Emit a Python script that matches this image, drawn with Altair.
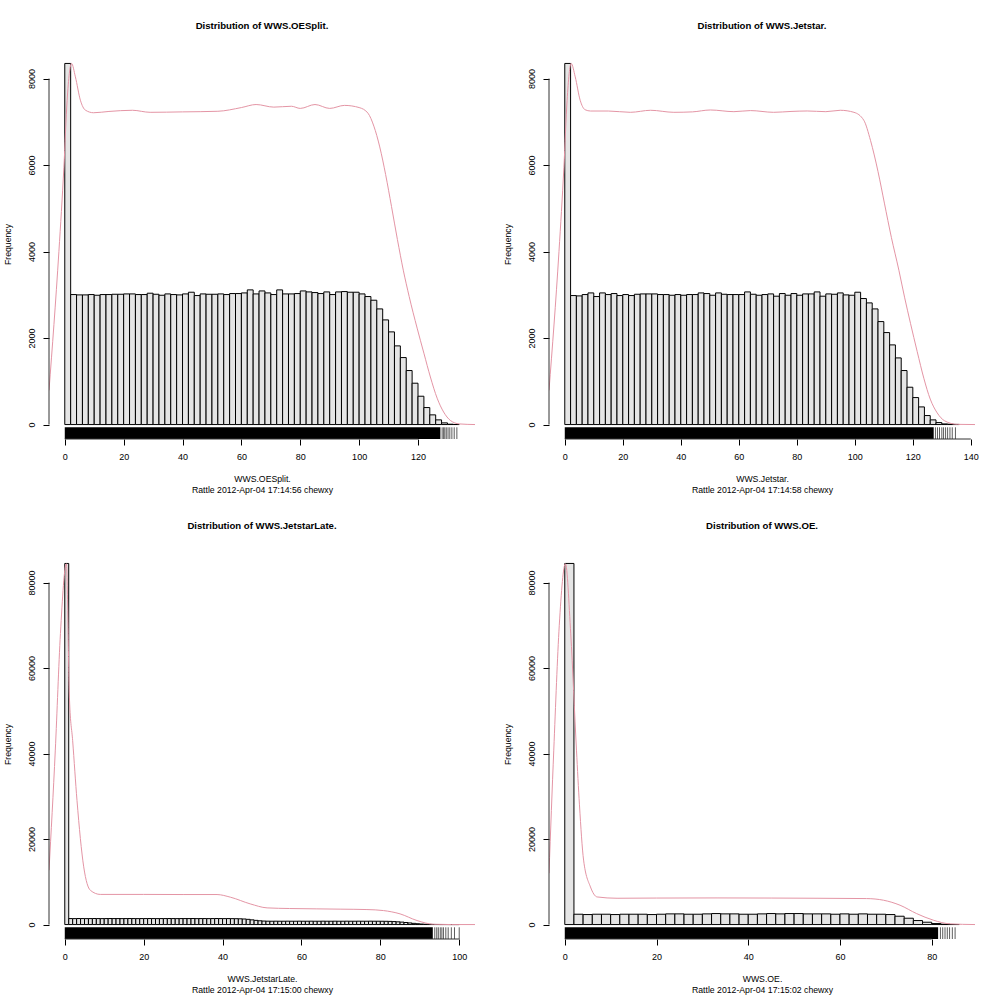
import altair as alt
import pandas as pd

FONT = "Liberation Sans"

# ---------------- data ----------------
names = ["WWS.OESplit.", "WWS.Jetstar.", "WWS.JetstarLate.", "WWS.OE."]
stamps = ["Rattle 2012-Apr-04 17:14:56 chewxy", "Rattle 2012-Apr-04 17:14:58 chewxy",
          "Rattle 2012-Apr-04 17:15:00 chewxy", "Rattle 2012-Apr-04 17:15:02 chewxy"]
binwidths = [2, 2, 1, 2]

counts1 = [8350, 3006, 2998, 2998, 3006, 2990, 3006, 3006, 3013, 3013, 3021, 3021, 3006, 3006, 3037,
           3013, 2990, 3021, 3006, 2998, 3021, 3060, 2983, 3021, 3013, 3013, 3021, 3006, 3029, 3029,
           3044, 3114, 3021, 3090, 3044, 3006, 3114, 3021, 3021, 3029, 3090, 3067, 3052, 3029, 3067,
           3006, 3067, 3075, 3060, 3060, 3021, 2960, 2875, 2674, 2420, 2143, 1819, 1549, 1249, 956,
           655, 393, 224, 108, 39, 8, 2]
counts2 = [8350, 2983, 2975, 3006, 3044, 2960, 3044, 3006, 3029, 2983, 3006, 2983, 3013, 3021, 3021,
           3021, 3006, 3006, 2990, 3006, 2990, 3006, 3006, 3044, 3029, 2990, 3044, 3013, 3006, 3006,
           3006, 3067, 3013, 2990, 3006, 3021, 2968, 3029, 2990, 3029, 2990, 3021, 3021, 3067, 2968,
           3021, 3013, 3044, 2998, 2990, 3060, 2914, 2813, 2674, 2381, 2127, 1842, 1541, 1249, 863,
           624, 408, 208, 108, 46, 15, 8, 3]
counts3 = ([84470] + [1400, 1390, 1410, 1400, 1390, 1400, 1410, 1400, 1390, 1400,
                      1410, 1400, 1400, 1390, 1400, 1410, 1400, 1390, 1400, 1400,
                      1410, 1400, 1390, 1400, 1400, 1410, 1400, 1390, 1400, 1400,
                      1400, 1410, 1390, 1400, 1400, 1390, 1400, 1410, 1400, 1390,
                      1400, 1380, 1370, 1350, 1300, 1220, 1100, 980, 880, 820]
           + [790, 780, 790, 780, 780, 790, 780, 780, 790, 780,
              780, 790, 780, 780, 790, 780, 780, 790, 780, 780,
              790, 780, 780, 790, 780, 780, 790, 780, 780, 770,
              760, 740, 700, 640, 570, 480, 380, 280, 190, 120,
              70, 40, 20, 10, 5, 3, 2, 1, 1])
counts4 = [84470, 2417, 2339, 2417, 2417, 2339, 2417, 2417, 2417, 2339, 2417, 2495, 2495, 2417, 2417,
           2495, 2573, 2495, 2495, 2417, 2417, 2495, 2573, 2495, 2573, 2573, 2495, 2495, 2495, 2417,
           2495, 2417, 2495, 2417, 2417, 2339, 1949, 1481, 936, 546, 234, 78, 10]

dens1_x = [-5.36, -2, -0.3, 0.8, 2.3, 3.6, 5.3, 7, 9.8, 15, 23, 29, 40, 52, 60, 65, 71, 77, 80, 85,
           90, 95, 100, 103, 105, 107, 109, 111, 113, 115, 117, 119.7, 122, 124.2, 126.5, 128.7, 131,
           134, 139.36]
dens1_y = [790, 4000, 5950, 7500, 8350, 8040, 7500, 7270, 7210, 7240, 7267, 7220, 7230, 7244, 7330,
           7400, 7340, 7360, 7310, 7400, 7310, 7380, 7330, 7200, 6900, 6420, 5780, 5040, 4280, 3570,
           2960, 2230, 1650, 1100, 610, 290, 95, 15, 0]
dens2_x = [-5.44, -2, -0.3, 0.8, 2.2, 3.6, 5.3, 7, 8.9, 15, 22.6, 29.6, 37.6, 44, 50.2, 58.3, 64, 72,
           78, 83.6, 90, 95, 99.7, 103.1, 105.4, 108, 110.2, 112.6, 115.2, 117.2, 119.2, 121.5, 123.8,
           126, 128.4, 131, 135.3, 141.44]
dens2_y = [790, 4000, 5950, 7500, 8350, 8040, 7500, 7280, 7250, 7250, 7220, 7267, 7220, 7230, 7274,
           7235, 7260, 7220, 7240, 7251, 7235, 7267, 7220, 7036, 6573, 5850, 5120, 4330, 3568, 2930,
           2340, 1690, 1070, 590, 270, 85, 5, 0]
dens3_x = [-4, -2.4, -1.1, 0.4, 1.2, 2.0, 3.1, 4.8, 6.5, 9, 20, 30, 38.6, 42, 47, 51.3, 57, 63.9, 70,
           76.6, 80.8, 85, 89.3, 93.5, 98, 104]
dens3_y = [12700, 40800, 68100, 84400, 52500, 43000, 29000, 13500, 8000, 7050, 7050, 7020, 7020, 6400,
           4840, 3900, 3750, 3670, 3600, 3510, 3270, 2500, 940, 70, 0, 0]
dens4_x = [-3.44, -2.4, -1.2, 0.15, 1.3, 2.55, 3.2, 4.1, 5.6, 7.05, 11.4, 20, 33.2, 45, 55, 65.8, 69.5,
           73.1, 76.7, 80.4, 84, 89.44]
dens4_y = [12000, 40800, 70000, 84400, 68000, 40800, 28000, 15080, 8800, 6460, 6150, 6200, 6230, 6200,
           6150, 6080, 5690, 4520, 2570, 1010, 160, 0]

rug_dense_end = [127.6, 127.2, 93.3, 81.4]
rug_tail1 = [128.2, 128.7, 129.1, 129.6, 130.2, 130.8, 131.5, 132.3, 133.2]
rug_tail2 = [127.8, 128.5, 129.2, 130.0, 130.6, 131.3, 132.0, 132.8, 133.6, 134.7]
rug_tail3 = [93.8, 94.3, 94.7, 95.2, 95.6, 96.0, 96.6, 97.2, 98.0, 98.8, 100.0]
rug_tail4 = [81.9, 82.4, 82.9, 83.4, 83.9, 84.5, 85.1]

xticks = [[0, 20, 40, 60, 80, 100, 120], [0, 20, 40, 60, 80, 100, 120, 140],
          [0, 20, 40, 60, 80, 100], [0, 20, 40, 60, 80]]
yticks = [[0, 2000, 4000, 6000, 8000], [0, 2000, 4000, 6000, 8000],
          [0, 20000, 40000, 60000, 80000], [0, 20000, 40000, 60000, 80000]]

# ---------------- panels ----------------
W, H = 426, 390


def panel(name, stamp, counts, bw, dx, dy, rug_end, rug_tail, xt, yt):
    n = len(counts)
    xr = n * bw
    xlo, xhi = -0.04 * xr, xr * 1.04
    ymax = max(max(counts), max(dy))
    ylo, yhi = -0.04 * ymax, 1.04 * ymax
    rug_top = ylo + 0.03 * (yhi - ylo)

    xs = alt.Scale(domain=[xlo, xhi], nice=False, zero=False)
    ys = alt.Scale(domain=[ylo, yhi], nice=False, zero=False)

    bars = pd.DataFrame({"x0": [i * bw for i in range(n)],
                         "x1": [(i + 1) * bw for i in range(n)],
                         "count": counts})
    dens = pd.DataFrame({"x0": dx, "count": dy})
    rug = pd.DataFrame({"x0": [0], "x1": [rug_end], "count": [ylo], "y1": [rug_top]})
    tail = pd.DataFrame({"x0": rug_tail, "count": [ylo] * len(rug_tail),
                         "y1": [rug_top] * len(rug_tail)})
    yline = pd.DataFrame({"x0": [xlo], "count": [yt[0]], "y1": [yt[-1]]})
    xline = pd.DataFrame({"count": [ylo], "x0": [xt[0]], "x1": [xt[-1]]})

    xaxis = alt.Axis(values=xt, domain=False, grid=False, ticks=True, tickSize=6, tickColor="black",
                     tickWidth=1, labelFontSize=9, labelColor="black", labelPadding=7, format="d",
                     labelFlush=False, labelOverlap=False, title=[name, stamp], titleFontSize=8.7,
                     titleFontWeight="normal", titleColor="black", titlePadding=13,
                     titleLineHeight=11.6)
    yaxis = alt.Axis(values=yt, domain=False, grid=False, ticks=True, tickSize=6, tickColor="black",
                     tickWidth=1, labelFontSize=9, labelColor="black", labelAngle=-90,
                     labelAlign="center", labelBaseline="alphabetic", labelPadding=9, format="d",
                     labelFlush=False, labelOverlap=False, title="Frequency", titleFontSize=8.7,
                     titleFontWeight="normal", titleColor="black", titlePadding=15)

    X = lambda: alt.X("x0:Q", scale=xs, axis=xaxis)
    Y = lambda: alt.Y("count:Q", scale=ys, axis=yaxis)

    hist = alt.Chart(bars).mark_rect(fill="#E5E5E5", stroke="black", strokeWidth=1).encode(
        x=X(), x2="x1:Q", y=Y(), y2=alt.datum(0))
    rug_l = alt.Chart(rug).mark_rect(color="black").encode(x=X(), x2="x1:Q", y=Y(), y2="y1:Q")
    tail_l = alt.Chart(tail).mark_rule(color="#333333", strokeWidth=0.8).encode(
        x=X(), y=Y(), y2="y1:Q")
    dens_l = alt.Chart(dens).mark_line(color="#E495A5", strokeWidth=1, interpolate="monotone",
                                       clip=True).encode(x=X(), y=Y())
    yl = alt.Chart(yline).mark_rule(color="#333333", strokeWidth=1).encode(x=X(), y=Y(), y2="y1:Q")
    xl = alt.Chart(xline).mark_rule(color="#333333", strokeWidth=1).encode(y=Y(), x=X(), x2="x1:Q")

    return alt.layer(hist, rug_l, tail_l, dens_l, yl, xl).properties(
        width=W, height=H,
        title=alt.TitleParams(text="Distribution of " + name, fontSize=9.6, fontWeight="bold",
                              color="black", anchor="middle", frame="group", offset=18))


p1 = panel(names[0], stamps[0], counts1, binwidths[0], dens1_x, dens1_y, rug_dense_end[0], rug_tail1,
           xticks[0], yticks[0])
p2 = panel(names[1], stamps[1], counts2, binwidths[1], dens2_x, dens2_y, rug_dense_end[1], rug_tail2,
           xticks[1], yticks[1])
p3 = panel(names[2], stamps[2], counts3, binwidths[2], dens3_x, dens3_y, rug_dense_end[2], rug_tail3,
           xticks[2], yticks[2])
p4 = panel(names[3], stamps[3], counts4, binwidths[3], dens4_x, dens4_y, rug_dense_end[3], rug_tail4,
           xticks[3], yticks[3])

chart = alt.concat(p1, p2, p3, p4, columns=2, bounds="flush",
                   spacing=alt.RowColnumber(row=110, column=74)).properties(
    padding={"left": 3, "top": 21, "right": 5, "bottom": 5}
).configure(font=FONT).configure_view(stroke=None)

chart.save("out.html", embed_options={"renderer": "svg", "actions": False})
